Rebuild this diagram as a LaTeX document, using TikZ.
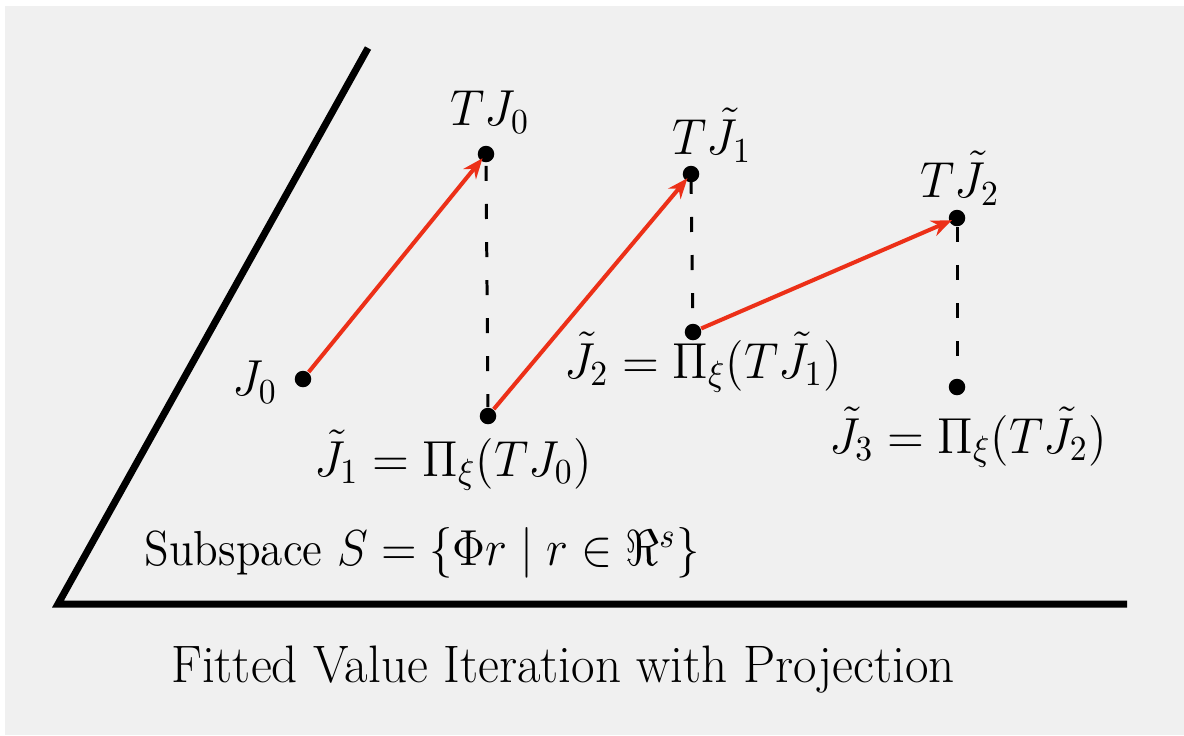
\documentclass[tikz,border=0pt]{standalone}
\usepackage{amsmath,amssymb}
\usepackage{xcolor}
\usetikzlibrary{arrows.meta,positioning}
\definecolor{iterred}{RGB}{236,48,24}
\definecolor{bggray}{RGB}{240,240,240}

\begin{document}
\begin{tikzpicture}[
  x=0.01cm,
  y=-0.01cm,
  dot/.style={circle, fill=black, inner sep=0pt, minimum size=0.165cm},
  iter/.style={draw=iterred, line width=1.15pt, -{Stealth[length=5.8pt,width=4.6pt]}, shorten >=-1pt},
  proj/.style={draw=black, line width=0.85pt, dash pattern=on 0.15cm off 0.23cm},
  lab/.style={font=\fontsize{14}{16}\selectfont, inner sep=0pt, xscale=0.955},
  axis/.style={line width=2pt, line cap=butt}
]
\useasboundingbox (0,0) rectangle (1184,735);
\fill[white] (0,0) rectangle (1184,735);
\fill[bggray] (5,6) rectangle (1184,735);
% subspace
\coordinate (top) at (368,48);
\coordinate (origin) at (58,604);
\coordinate (right) at (1127,604);
\draw[axis] (top) -- (origin) -- (right);
% iterates
\node[dot] (j0) at (303,379) {};
\node[dot] (tj0) at (486,154) {};
\node[dot] (j1) at (488,416) {};
\node[dot] (tj1) at (691,174) {};
\node[dot] (j2) at (693,332) {};
\node[dot] (tj2) at (957,218) {};
\node[dot] (j3) at (957,387) {};
\draw[iter] (j0) -- (tj0);
\draw[iter] (j1) -- (tj1);
\draw[iter] (j2) -- (tj2);
\draw[proj, dash phase=0.35cm] (tj0) -- (j1);
\draw[proj, shorten <=-0.04cm] (tj1) -- (j2);
\draw[proj] (tj2) -- (j3);
% labels
\node[lab] (j0lab) at (255,382) {$J_0$};
\node[lab] (tj0lab) at (490,112) {$TJ_0$};
\node[lab] (j1lab) at (453,460) {$\tilde J_1=\Pi_\xi(TJ_0)$};
\node[lab] (tj1lab) at (712,135) {$T\tilde J_1$};
\node[lab] (j2lab) at (703,362) {$\tilde J_2=\Pi_\xi(T\tilde J_1)$};
\node[lab] (tj2lab) at (960,178) {$T\tilde J_2$};
\node[lab] (j3lab) at (968,437) {$\tilde J_3=\Pi_\xi(T\tilde J_2)$};
\node[lab, xscale=0.965] (sublab) at (422,553) {Subspace $S=\{\Phi r\mid r\in\Re^s\}$};
\node[font=\fontsize{15}{18}\selectfont, inner sep=0pt, xscale=0.97] (title) at (563,670) {Fitted Value Iteration with Projection};
\end{tikzpicture}
\end{document}
